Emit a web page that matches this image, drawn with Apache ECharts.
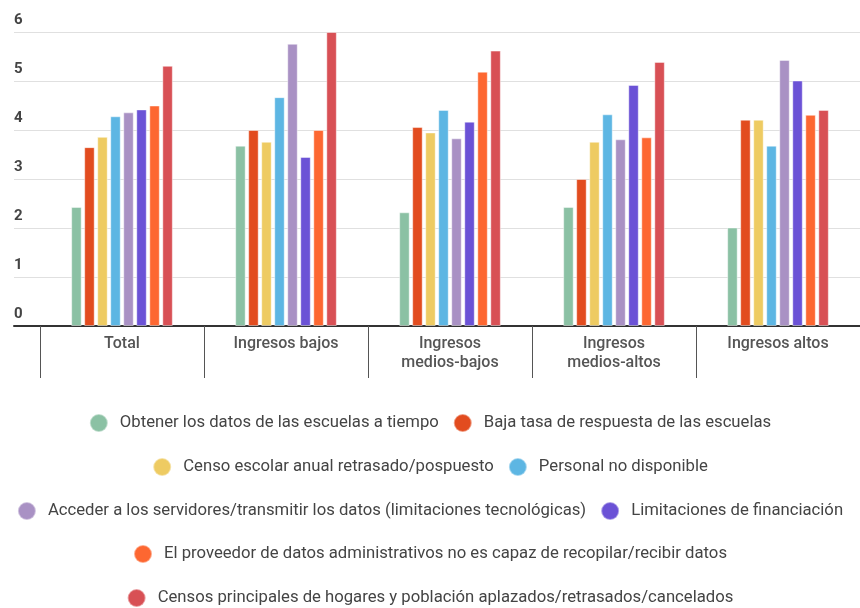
<!DOCTYPE html>
<html>
<head>
<meta charset="utf-8">
<script src="https://cdn.jsdelivr.net/npm/echarts@6/dist/echarts.min.js"></script>
<style>html,body{margin:0;padding:0;background:#fff}#c{width:860px;height:608px}</style>
</head>
<body>
<div id="c"></div>
<script>
const categories = ['Total', 'Ingresos bajos', 'Ingresos\nmedios-bajos', 'Ingresos\nmedios-altos', 'Ingresos altos'];
const seriesNames = [
  'Obtener los datos de las escuelas a tiempo',
  'Baja tasa de respuesta de las escuelas',
  'Censo escolar anual retrasado/pospuesto',
  'Personal no disponible',
  'Acceder a los servidores/transmitir los datos (limitaciones tecnológicas)',
  'Limitaciones de financiación',
  'El proveedor de datos administrativos no es capaz de recopilar/recibir datos',
  'Censos principales de hogares y población aplazados/retrasados/cancelados'
];
const colors = ['#8bc1a4', '#e24c1f', '#eecb62', '#5db6e3', '#a991c4', '#6b52d6', '#fd6731', '#d85055'];
const obtener = [2.43, 3.68, 2.32, 2.43, 2.01];
const bajaTasa = [3.65, 4.0, 4.06, 3.0, 4.21];
const censoEscolar = [3.86, 3.76, 3.95, 3.76, 4.21];
const personal = [4.28, 4.67, 4.41, 4.32, 3.68];
const acceder = [4.36, 5.76, 3.83, 3.81, 5.43];
const financiacion = [4.42, 3.45, 4.17, 4.92, 5.01];
const proveedor = [4.50, 4.0, 5.19, 3.85, 4.31];
const censosPrincipales = [5.31, 6.0, 5.62, 5.39, 4.41];
const values = [obtener, bajaTasa, censoEscolar, personal, acceder, financiacion, proveedor, censosPrincipales];
const yTicks = [0, 1, 2, 3, 4, 5, 6];

const font = 'Roboto, "Noto Sans", sans-serif';
const legendRows = [[0, 1], [2, 3], [4, 5], [6], [7]];
const legendTops = [422, 466, 510, 553, 597];

const chart = echarts.init(document.getElementById('c'));
chart.setOption({
  animation: false,
  color: colors,
  grid: [
    {left: 40, right: -8, top: 32, bottom: 282, containLabel: false},
    {left: 14, right: 0, top: 32, bottom: 282, containLabel: false}
  ],
  xAxis: [
    {
      type: 'category', gridIndex: 0, data: categories,
      axisLine: {show: false},
      axisTick: {show: true, length: 52, interval: 0, lineStyle: {color: '#555', width: 1}},
      axisLabel: {interval: 0, margin: 8, fontSize: 16, fontWeight: 500, color: '#555', fontFamily: font, lineHeight: 19}
    },
    {
      type: 'value', gridIndex: 1, min: 0, max: 1,
      axisLine: {show: true, onZero: true, lineStyle: {color: '#333', width: 2}},
      axisTick: {show: false}, axisLabel: {show: false}, splitLine: {show: false}
    }
  ],
  yAxis: [
    {type: 'value', gridIndex: 0, min: 0, max: 6, interval: 1, show: false, splitLine: {show: false}},
    {
      type: 'value', gridIndex: 1, min: yTicks[0], max: yTicks[yTicks.length - 1], interval: 1,
      axisLine: {show: false}, axisTick: {show: false},
      splitLine: {show: true, lineStyle: {color: '#e0e0e0', width: 1}},
      axisLabel: {inside: true, margin: 0, verticalAlign: 'bottom', padding: [0, 0, 4, 0],
        fontSize: 15, fontWeight: 'bold', color: '#444', fontFamily: font}
    }
  ],
  legend: legendRows.map((row, i) => ({
    top: legendTops[i] - 9, left: 'center', padding: 0,
    data: row.map(k => seriesNames[k]),
    icon: 'circle', itemWidth: 18, itemHeight: 18, itemGap: 14,
    textStyle: {fontSize: 16.7, color: '#444', fontFamily: font, padding: [0, 0, 0, 7]}
  })),
  series: seriesNames.map((name, i) => ({
    name: name, type: 'bar', xAxisIndex: 0, yAxisIndex: 0,
    data: values[i], barWidth: 10.5, barGap: '24%',
    itemStyle: {color: colors[i], borderColor: 'rgba(255,255,255,0.45)', borderWidth: 1}
  }))
});
</script>
</body>
</html>
